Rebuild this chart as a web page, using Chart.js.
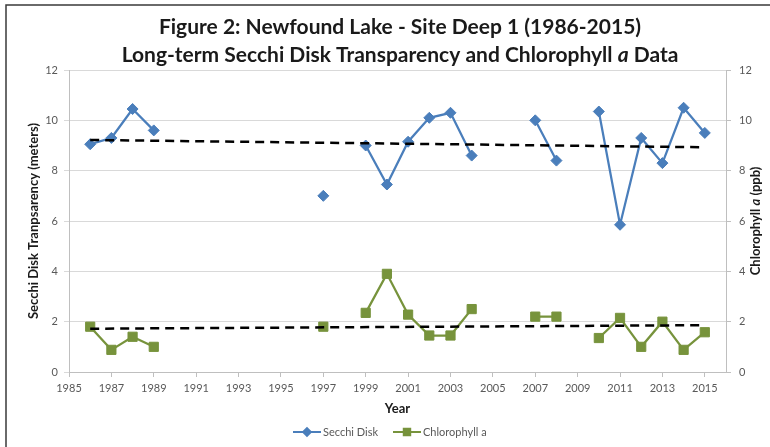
<!DOCTYPE html>
<html>
<head>
<meta charset="utf-8">
<script src="https://cdn.jsdelivr.net/npm/chart.js@4.4.1/dist/chart.umd.min.js"></script>
<style>
  html, body { margin: 0; padding: 0; background: #fff; }
  canvas { display: block; }
</style>
</head>
<body>
<canvas id="lakeChart" width="770" height="447"></canvas>
<script>
// Data
var years = [1986, 1987, 1988, 1989, 1990, 1991, 1992, 1993, 1994, 1995,
             1996, 1997, 1998, 1999, 2000, 2001, 2002, 2003, 2004, 2005,
             2006, 2007, 2008, 2009, 2010, 2011, 2012, 2013, 2014, 2015];
var secchi = [9.05, 9.3, 10.45, 9.6, null, null, null, null, null, null,
              null, 7.0, null, 9.0, 7.45, 9.15, 10.1, 10.3, 8.6, null,
              null, 10.0, 8.4, null, 10.35, 5.85, 9.3, 8.3, 10.5, 9.5];
var chlorophyll = [1.8, 0.88, 1.4, 1.0, null, null, null, null, null, null,
                   null, 1.8, null, 2.35, 3.9, 2.28, 1.45, 1.45, 2.5, null,
                   null, 2.2, 2.2, null, 1.35, 2.15, 1.0, 2.0, 0.88, 1.58];

// trend line end points (dashed lines)
var trendYears = [1986, 2015];
var secchiTrend = [9.22, 8.93];
var chlTrend = [1.72, 1.86];

var xTicks = [1985, 1987, 1989, 1991, 1993, 1995, 1997, 1999, 2001, 2003,
              2005, 2007, 2009, 2011, 2013, 2015];
var yTicks = [0, 2, 4, 6, 8, 10, 12];

var FONT = 'Lato, "Open Sans", sans-serif';
var GREY = '#595959';
var BLUE = '#4a7ebb';
var GREEN = '#77933c';

function points(xs, ys) {
    return xs.map(function (x, i) { return {x: x, y: ys[i]}; });
}

// draws a line of text where some parts are italic
function drawRich(ctx, parts, cx, cy, size, weight) {
    var total = 0;
    parts.forEach(function (p) {
        ctx.font = (p[1] ? 'italic ' : '') + weight + ' ' + size + 'px ' + FONT;
        total += ctx.measureText(p[0]).width;
    });
    var x = cx - total / 2;
    ctx.textAlign = 'left';
    ctx.textBaseline = 'middle';
    parts.forEach(function (p) {
        ctx.font = (p[1] ? 'italic ' : '') + weight + ' ' + size + 'px ' + FONT;
        ctx.fillText(p[0], x, cy);
        x += ctx.measureText(p[0]).width;
    });
}

var decorations = {
    id: 'decorations',
    beforeDraw: function (chart) {
        var ctx = chart.ctx;
        ctx.save();
        ctx.fillStyle = '#fff';
        ctx.fillRect(0, 0, chart.width, chart.height);
        ctx.restore();
    },
    afterDraw: function (chart) {
        var ctx = chart.ctx;
        var area = chart.chartArea;
        var midY = (area.top + area.bottom) / 2;
        ctx.save();

        // outer frame
        ctx.strokeStyle = '#3a3a3a';
        ctx.lineWidth = 1.5;
        ctx.strokeRect(6, 5, 800, 480);

        // title
        ctx.fillStyle = '#1a1a1a';
        drawRich(ctx, [['Figure 2: Newfound Lake - Site Deep 1 (1986-2015)', false]], 400, 27, 21, 'bold');
        drawRich(ctx, [['Long-term Secchi Disk Transparency and Chlorophyll ', false], ['a', true], [' Data', false]], 400, 55, 21, 'bold');

        // axis titles
        ctx.save();
        ctx.translate(34, midY);
        ctx.rotate(-Math.PI / 2);
        drawRich(ctx, [['Secchi Disk Tranpsarency (meters)', false]], 0, 0, 13, 'bold');
        ctx.restore();

        ctx.save();
        ctx.translate(756, midY);
        ctx.rotate(-Math.PI / 2);
        drawRich(ctx, [['Chlorophyll ', false], ['a', true], [' (ppb)', false]], 0, 0, 13, 'bold');
        ctx.restore();

        drawRich(ctx, [['Year', false]], (area.left + area.right) / 2, 409, 13, 'bold');

        // legend
        var items = chart.data.datasets.filter(function (d) { return d.inLegend; });
        var y = 432;
        var x = 293;
        ctx.font = '11px ' + FONT;
        items.forEach(function (d) {
            ctx.strokeStyle = d.borderColor;
            ctx.fillStyle = d.backgroundColor;
            ctx.lineWidth = 2;
            ctx.beginPath();
            ctx.moveTo(x, y);
            ctx.lineTo(x + 28, y);
            ctx.stroke();
            Chart.helpers.drawPoint(ctx, {pointStyle: d.pointStyle, rotation: 0, radius: d.pointRadius * 0.7, borderWidth: 1}, x + 14, y);
            ctx.fillStyle = GREY;
            ctx.font = '11px ' + FONT;
            ctx.textAlign = 'left';
            ctx.textBaseline = 'middle';
            ctx.fillText(d.label, x + 30, y);
            x += 30 + ctx.measureText(d.label).width + 15;
        });
        ctx.restore();
    }
};

var ctx = document.getElementById('lakeChart').getContext('2d');
var lakeChart = new Chart(ctx, {
    type: 'line',
    data: {
        datasets: [{
            label: 'Secchi Disk',
            data: points(years, secchi),
            yAxisID: 'y',
            borderColor: BLUE,
            backgroundColor: BLUE,
            borderWidth: 2.25,
            pointStyle: 'rectRot',
            pointRadius: 5.5,
            pointBorderWidth: 1,
            spanGaps: false,
            inLegend: true,
            order: 3
        }, {
            label: 'Chlorophyll a',
            data: points(years, chlorophyll),
            yAxisID: 'y2',
            borderColor: GREEN,
            backgroundColor: GREEN,
            borderWidth: 2.25,
            pointStyle: 'rect',
            pointRadius: 6.5,
            pointBorderWidth: 1,
            spanGaps: false,
            inLegend: true,
            order: 2
        }, {
            label: 'Secchi trend',
            data: points(trendYears, secchiTrend),
            yAxisID: 'y',
            borderColor: '#000',
            borderWidth: 2.5,
            borderDash: [9, 6],
            pointRadius: 0,
            order: 1
        }, {
            label: 'Chlorophyll trend',
            data: points(trendYears, chlTrend),
            yAxisID: 'y2',
            borderColor: '#000',
            borderWidth: 2.5,
            borderDash: [9, 6],
            pointRadius: 0,
            order: 1
        }]
    },
    options: {
        responsive: false,
        animation: false,
        layout: { padding: { top: 70, left: 0, right: 0, bottom: 0 } },
        plugins: {
            legend: { display: false },
            tooltip: { enabled: false },
            title: { display: false }
        },
        scales: {
            x: {
                type: 'linear',
                min: 1985,
                max: 2016,
                afterBuildTicks: function (s) { s.ticks = xTicks.map(function (v) { return {value: v}; }); },
                afterFit: function (s) { s.height = 75; },
                ticks: {
                    autoSkip: false,
                    maxRotation: 0,
                    padding: 5,
                    color: GREY,
                    font: { family: FONT, size: 11 },
                    callback: function (v) { return String(v); }
                },
                grid: { drawOnChartArea: false, tickLength: 5, color: '#bfbfbf' },
                border: { color: '#bfbfbf' }
            },
            y: {
                position: 'left',
                min: 0,
                max: 12,
                afterBuildTicks: function (s) { s.ticks = yTicks.map(function (v) { return {value: v}; }); },
                afterFit: function (s) { s.width = 69; },
                ticks: { padding: 6, color: GREY, font: { family: FONT, size: 11 } },
                grid: { color: '#d9d9d9', tickLength: 5 },
                border: { color: '#bfbfbf' }
            },
            y2: {
                position: 'right',
                min: 0,
                max: 12,
                afterBuildTicks: function (s) { s.ticks = yTicks.map(function (v) { return {value: v}; }); },
                afterFit: function (s) { s.width = 44; },
                ticks: { padding: 8, color: GREY, font: { family: FONT, size: 11 } },
                grid: { drawOnChartArea: false, color: '#bfbfbf', tickLength: 5 },
                border: { color: '#bfbfbf' }
            }
        }
    },
    plugins: [decorations]
});
</script>
</body>
</html>
